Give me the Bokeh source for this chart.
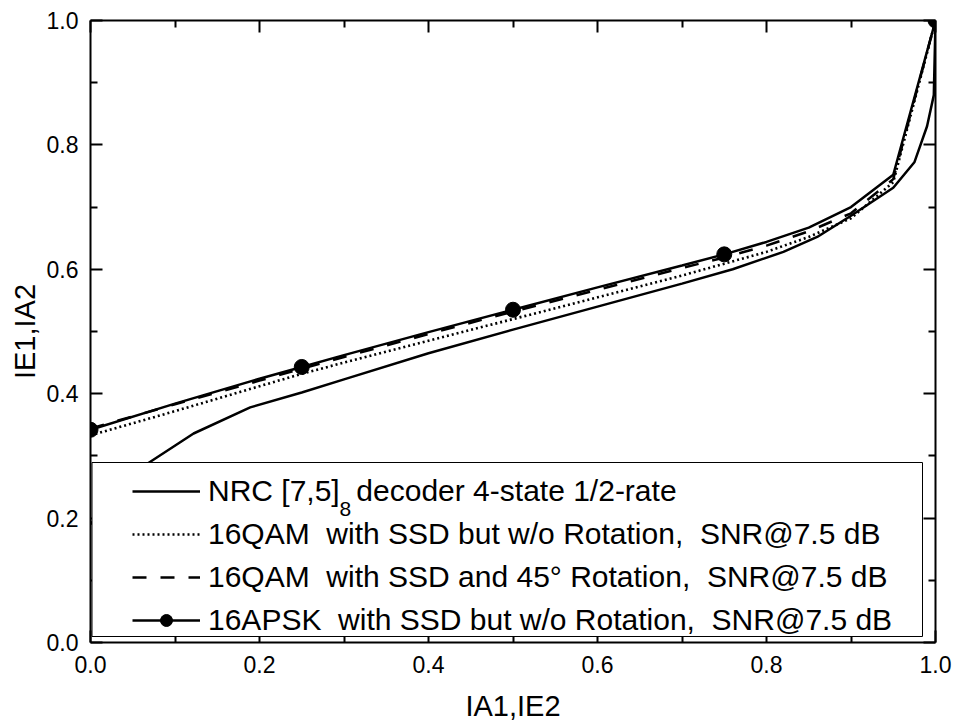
from bokeh.plotting import figure
from bokeh.models import (LinearAxis, Legend, LegendItem, BoxAnnotation, Range1d,
                          FixedTicker, NumeralTickFormatter, CustomJSTickFormatter,
                          Label)
from bokeh.embed import file_html
from bokeh.resources import INLINE

# ---------------- data ----------------
nrc_x = [0.0, 0.03, 0.069, 0.122, 0.189, 0.25, 0.3, 0.4, 0.5, 0.6, 0.7, 0.76,
         0.82, 0.86, 0.9, 0.95, 0.975, 0.99, 0.998, 1.0]
nrc_y = [0.19, 0.245, 0.289, 0.336, 0.378, 0.402, 0.423, 0.465, 0.503, 0.540,
         0.577, 0.600, 0.628, 0.652, 0.686, 0.731, 0.772, 0.83, 0.88, 1.0]

curve_x = [0.0, 0.1, 0.2, 0.25, 0.3, 0.4, 0.5, 0.6, 0.7, 0.75, 0.8, 0.85, 0.9, 0.95, 1.0]
qam_norot_y = [0.333, 0.372, 0.412, 0.432, 0.450, 0.485, 0.520, 0.555, 0.590,
               0.609, 0.628, 0.652, 0.682, 0.740, 1.0]
qam_rot_y = [0.344, 0.383, 0.421, 0.440, 0.459, 0.496, 0.532, 0.567, 0.602,
             0.619, 0.638, 0.661, 0.690, 0.745, 1.0]
apsk_y = [0.342, 0.384, 0.424, 0.443, 0.462, 0.499, 0.535, 0.571, 0.606,
          0.624, 0.644, 0.667, 0.700, 0.752, 1.0]
apsk_mark_x = [0.0, 0.25, 0.5, 0.75, 1.0]
apsk_mark_y = [0.342, 0.443, 0.535, 0.624, 1.0]

labels = [
    "NRC [7,5]\u00a0\u00a0decoder 4-state 1/2-rate",
    "16QAM\u00a0 with SSD but w/o Rotation,\u00a0 SNR@7.5 dB",
    "16QAM\u00a0 with SSD and 45\u00b0 Rotation,\u00a0 SNR@7.5 dB",
    "16APSK\u00a0 with SSD but w/o Rotation,\u00a0 SNR@7.5 dB",
]
subscript_text = "8"
major_ticks = [0.0, 0.2, 0.4, 0.6, 0.8, 1.0]
minor_ticks = [0.1, 0.3, 0.5, 0.7, 0.9]
x_title = "IA1,IE2"
y_title = "IE1,IA2"

FONT = "Liberation Sans"

p = figure(width=955, height=728, output_backend="svg", toolbar_location=None,
           x_range=Range1d(0, 1), y_range=Range1d(0, 1),
           min_border_left=90, min_border_right=20, min_border_top=20,
           min_border_bottom=86, x_axis_type=None, y_axis_type=None)
p.grid.visible = False
p.outline_line_color = None
p.background_fill_color = "white"

ticker = FixedTicker(ticks=major_ticks, minor_ticks=minor_ticks)


def make_axis(show_labels, title=None):
    ax = LinearAxis(ticker=ticker)
    ax.axis_line_width = 2
    ax.axis_line_color = "black"
    ax.major_tick_line_width = 2
    ax.minor_tick_line_width = 2
    ax.major_tick_in = 12
    ax.major_tick_out = 0
    ax.minor_tick_in = 7
    ax.minor_tick_out = 0
    if show_labels:
        ax.formatter = NumeralTickFormatter(format="0.0")
        ax.major_label_text_font = FONT
        ax.major_label_text_font_size = "23px"
        ax.major_label_text_color = "black"
        ax.axis_label = title
        ax.axis_label_text_font = FONT
        ax.axis_label_text_font_size = "29px"
        ax.axis_label_text_font_style = "normal"
        ax.axis_label_text_color = "black"
    else:
        ax.formatter = CustomJSTickFormatter(code="return ''")
        ax.major_label_standoff = 0
        ax.axis_label_standoff = 0
    return ax


xb = make_axis(True, x_title)
xb.major_label_standoff = 13
xb.axis_label_standoff = 14
yl = make_axis(True, y_title)
yl.major_label_standoff = 12
yl.axis_label_standoff = 3
p.add_layout(xb, "below")
p.add_layout(yl, "left")
p.add_layout(make_axis(False), "above")
p.add_layout(make_axis(False), "right")

r_nrc = p.line(nrc_x, nrc_y, line_color="black", line_width=2.5)
r_dot = p.line(curve_x, qam_norot_y, line_color="black", line_width=2.6,
               line_dash="2 3")
r_dash = p.line(curve_x, qam_rot_y, line_color="black", line_width=2.5,
                line_dash="14 14")
r_apsk = p.line(curve_x, apsk_y, line_color="black", line_width=2.5)
r_mark = p.scatter(apsk_mark_x, apsk_mark_y, marker="circle", size=15,
                   fill_color="black", line_color="black")

# legend frame (white, opaque, thin border)
frame_w, frame_h = 845.0, 622.0
box = BoxAnnotation(left=1.5 / frame_w, right=832 / frame_w,
                    bottom=6 / frame_h, top=180 / frame_h,
                    fill_color="white", fill_alpha=1.0,
                    line_color="black", line_width=1, line_alpha=1.0)
p.add_layout(box)

legend = Legend(items=[
    LegendItem(label=labels[0], renderers=[r_nrc]),
    LegendItem(label=labels[1], renderers=[r_dot]),
    LegendItem(label=labels[2], renderers=[r_dash]),
    LegendItem(label=labels[3], renderers=[r_apsk, r_mark]),
], location=(42, 5), padding=0, margin=0, border_line_alpha=0,
    background_fill_alpha=0, glyph_width=68, glyph_height=30,
    label_standoff=8, spacing=9, label_text_font=FONT,
    label_text_font_size="30px", label_text_color="black")
p.add_layout(legend)

# subscript "8" of [7,5]_8 in the first legend entry
sub = Label(x=249 / frame_w, y=134 / frame_h, text=subscript_text,
            text_font=FONT, text_font_size="21px", text_color="black",
            text_baseline="alphabetic", text_align="left")
p.add_layout(sub)

open("out.html", "w").write(file_html(p, INLINE))
